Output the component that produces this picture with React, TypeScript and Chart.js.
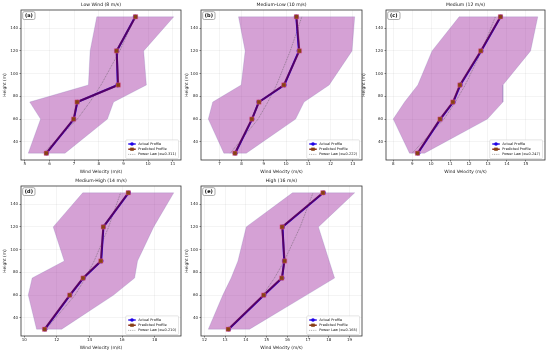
import React, { useEffect, useRef } from 'react';
import { Chart, registerables } from 'chart.js';

Chart.register(...registerables);

const heights = [30, 60, 75, 90, 120, 150];
const heightTicks = [40, 60, 80, 100, 120, 140];

// (a) Low Wind
const actualA = [5.88, 6.99, 7.13, 8.77, 8.73, 9.48];
const predictedA = [5.87, 6.98, 7.12, 8.79, 8.72, 9.49];
const lowerA = [5.14, 5.64, 5.2, 7.58, 7.65, 7.92];
const upperA = [6.63, 8.35, 8.6, 9.93, 9.82, 11.04];
const powerA = [5.75, 7.13, 7.64, 8.09, 8.85, 9.48];
const ticksA = [5, 6, 7, 8, 9, 10, 11];

// (b) Medium-Low
const actualB = [7.71, 8.47, 8.77, 9.92, 10.58, 10.46];
const predictedB = [7.7, 8.46, 8.78, 9.9, 10.6, 10.47];
const lowerB = [7.2, 6.5, 6.7, 7.98, 8.16, 7.86];
const upperB = [8.21, 10.43, 10.81, 11.94, 12.97, 13.09];
const powerB = [7.49, 8.74, 9.18, 9.57, 10.19, 10.71];
const ticksB = [7, 8, 9, 10, 11, 12, 13];

// (c) Medium
const actualC = [9.3, 10.49, 11.17, 11.54, 12.64, 13.67];
const predictedC = [9.28, 10.47, 11.15, 11.52, 12.62, 13.66];
const lowerC = [8.86, 8.0, 8.6, 9.3, 10.05, 11.48];
const upperC = [9.65, 12.97, 13.79, 13.79, 15.25, 15.63];
const powerC = [9.0, 10.68, 11.28, 11.8, 12.67, 13.39];
const ticksC = [8, 9, 10, 11, 12, 13, 14, 15];

// (d) Medium-High
const actualD = [11.27, 12.81, 13.63, 14.72, 14.86, 16.4];
const predictedD = [11.25, 12.79, 13.61, 14.7, 14.85, 16.38];
const lowerD = [10.76, 10.25, 10.49, 12.46, 11.78, 13.59];
const upperD = [12.3, 15.48, 16.77, 16.95, 17.94, 19.17];
const powerD = [11.34, 13.12, 13.75, 14.29, 15.18, 15.91];
const ticksD = [10, 12, 14, 16, 18];

// (e) High
const actualE = [13.17, 14.88, 15.75, 15.85, 15.77, 17.74];
const predictedE = [13.15, 14.86, 15.73, 15.87, 15.75, 17.72];
const lowerE = [12.19, 12.89, 13.29, 13.62, 14.02, 16.25];
const upperE = [14.18, 16.92, 18.28, 18.02, 17.5, 19.25];
const powerE = [13.22, 14.82, 15.38, 15.85, 16.62, 17.24];
const ticksE = [12, 13, 14, 15, 16, 17, 18, 19];

type PanelCfg = {
  label: string; title: string; alpha: string;
  actual: number[]; predicted: number[]; lower: number[]; upper: number[]; power: number[];
  xTicks: number[];
  L: number; T: number; R: number; B: number; left: number;
};

const panels: PanelCfg[] = [
  { label: '(a)', title: 'Low Wind (8 m/s)', alpha: '0.311', actual: actualA, predicted: predictedA, lower: lowerA, upper: upperA, power: powerA, xTicks: ticksA, L: 21, T: 10, R: 181, B: 160, left: 2 },
  { label: '(b)', title: 'Medium-Low (10 m/s)', alpha: '0.222', actual: actualB, predicted: predictedB, lower: lowerB, upper: upperB, power: powerB, xTicks: ticksB, L: 201, T: 10, R: 362, B: 160, left: 184 },
  { label: '(c)', title: 'Medium (12 m/s)', alpha: '0.247', actual: actualC, predicted: predictedC, lower: lowerC, upper: upperC, power: powerC, xTicks: ticksC, L: 386, T: 10, R: 545, B: 160, left: 361 },
  { label: '(d)', title: 'Medium-High (14 m/s)', alpha: '0.210', actual: actualD, predicted: predictedD, lower: lowerD, upper: upperD, power: powerD, xTicks: ticksD, L: 21, T: 186, R: 181, B: 336, left: 2 },
  { label: '(e)', title: 'High (16 m/s)', alpha: '0.165', actual: actualE, predicted: predictedE, lower: lowerE, upper: upperE, power: powerE, xTicks: ticksE, L: 201, T: 186, R: 362, B: 336, left: 184 },
];

const FONT = 'DejaVu Sans';
const BLUE = 'rgb(30,0,230)';
const BROWN = 'rgb(135,65,20)';

function Panel({ cfg }: { cfg: PanelCfg }) {
  const ref = useRef<HTMLCanvasElement>(null);
  const top = cfg.T - 10;
  const width = cfg.R + 5 - cfg.left;
  const height = cfg.B + 14 - top;
  const yw = cfg.L - cfg.left;

  useEffect(() => {
    const pts = (xs: number[]) => xs.map((x, i) => ({ x, y: heights[i] }));
    const band = [
      ...cfg.lower.map((x, i) => ({ x, y: heights[i] })),
      ...cfg.upper.map((x, i) => ({ x, y: heights[i] })).reverse(),
      { x: cfg.lower[0], y: heights[0] },
    ];
    const lo = Math.min(...cfg.lower);
    const hi = Math.max(...cfg.upper);
    const pad = (hi - lo) * 0.05;

    const decor = {
      id: 'decor',
      afterDatasetsDraw(chart: any) {
        const { ctx, chartArea: a } = chart;
        ctx.save();
        ctx.strokeStyle = '#333';
        ctx.lineWidth = 0.8;
        ctx.strokeRect(a.left, a.top, a.right - a.left, a.bottom - a.top);
        ctx.fillStyle = '#111';
        ctx.font = `4.6px "${FONT}"`;
        ctx.textAlign = 'center';
        ctx.textBaseline = 'middle';
        ctx.fillText(cfg.title, (a.left + a.right) / 2, a.top - 4.8);
        const bx = a.left + 1.7, by = a.top + 1.7, bw = 12.3, bh = 7.8;
        ctx.beginPath();
        if (ctx.roundRect) ctx.roundRect(bx, by, bw, bh, 1.6); else ctx.rect(bx, by, bw, bh);
        ctx.fillStyle = 'rgba(255,255,255,0.9)';
        ctx.fill();
        ctx.strokeStyle = '#888';
        ctx.lineWidth = 0.7;
        ctx.stroke();
        ctx.fillStyle = '#000';
        ctx.font = `bold 5px "${FONT}"`;
        ctx.fillText(cfg.label, bx + bw / 2, by + bh / 2 + 0.2);
        const labels = ['Actual Profile', 'Predicted Profile', `Power Law (α=${cfg.alpha})`];
        ctx.font = `3.5px "${FONT}"`;
        const tw = Math.max(...labels.map((s) => ctx.measureText(s).width));
        const rowH = 5.2, padL = 2.5, hl = 7.5, gap = 2.5, padY = 1.5;
        const lw = padL + hl + gap + tw + 2.5;
        const lh = padY * 2 + rowH * 3;
        const lx = a.right - 2.5 - lw;
        const ly = a.bottom - 1.5 - lh;
        ctx.beginPath();
        if (ctx.roundRect) ctx.roundRect(lx, ly, lw, lh, 1); else ctx.rect(lx, ly, lw, lh);
        ctx.fillStyle = 'rgba(255,255,255,0.85)';
        ctx.fill();
        ctx.strokeStyle = 'rgba(200,200,200,0.9)';
        ctx.lineWidth = 0.5;
        ctx.stroke();
        labels.forEach((s, i) => {
          const cy = ly + padY + rowH * (i + 0.5);
          const x0 = lx + padL, x1 = x0 + hl, xm = (x0 + x1) / 2;
          ctx.beginPath();
          ctx.moveTo(x0, cy);
          ctx.lineTo(x1, cy);
          if (i === 0) {
            ctx.strokeStyle = BLUE; ctx.lineWidth = 1.4; ctx.setLineDash([]); ctx.stroke();
            ctx.beginPath(); ctx.arc(xm, cy, 1.8, 0, Math.PI * 2); ctx.fillStyle = BLUE; ctx.fill();
          } else if (i === 1) {
            ctx.strokeStyle = 'rgb(130,30,10)'; ctx.lineWidth = 1.4; ctx.setLineDash([]); ctx.stroke();
            ctx.fillStyle = BROWN; ctx.fillRect(xm - 1.8, cy - 1.6, 3.6, 3.2);
          } else {
            ctx.strokeStyle = 'rgba(90,90,90,0.9)'; ctx.lineWidth = 0.6; ctx.setLineDash([0.9, 0.9]); ctx.stroke();
            ctx.setLineDash([]);
          }
          ctx.fillStyle = '#111';
          ctx.textAlign = 'left';
          ctx.textBaseline = 'middle';
          ctx.fillText(s, x1 + gap, cy + 0.1);
        });
        ctx.restore();
      },
    };

    const tickFont = { family: FONT, size: 4 };
    const titleFont = { family: FONT, size: 4.4 };
    const grid = { color: 'rgba(0,0,0,0.09)', lineWidth: 0.5, tickLength: 1.5, tickColor: '#333', tickWidth: 0.6 };

    const chart = new Chart(ref.current as HTMLCanvasElement, {
      type: 'line',
      data: {
        datasets: [
          {
            label: 'Predicted Profile', data: pts(cfg.predicted),
            borderColor: 'rgba(120,0,20,0.6)', borderWidth: 2,
            pointStyle: 'rect', pointRadius: 3.1, pointBackgroundColor: BROWN,
            pointBorderColor: 'rgba(240,90,170,0.55)', pointBorderWidth: 0.8, fill: false,
          },
          {
            label: 'Actual Profile', data: pts(cfg.actual),
            borderColor: BLUE, borderWidth: 2,
            pointStyle: 'circle', pointRadius: 2.4, pointBackgroundColor: BLUE, pointBorderWidth: 0, fill: false,
          },
          {
            label: 'Power Law', data: pts(cfg.power),
            borderColor: 'rgba(80,80,80,0.85)', borderWidth: 0.6, borderDash: [0.9, 0.9],
            pointRadius: 0, fill: false,
          },
          {
            label: 'band', data: band,
            borderColor: 'rgba(110,100,170,0.35)', borderWidth: 0.6,
            backgroundColor: 'rgba(150,20,150,0.4)', pointRadius: 0, fill: 'shape',
          },
        ],
      } as any,
      options: {
        animation: false,
        responsive: false,
        devicePixelRatio: 1,
        events: [],
        layout: { padding: { top: 10, left: 0, right: 5, bottom: 0 } },
        elements: { line: { tension: 0 } },
        plugins: { legend: { display: false }, tooltip: { enabled: false }, title: { display: false } },
        scales: {
          x: {
            type: 'linear', min: lo - pad, max: hi + pad,
            afterBuildTicks: (s: any) => { s.ticks = cfg.xTicks.map((v) => ({ value: v })); },
            afterFit: (s: any) => { s.height = 14; s.paddingLeft = 0; s.paddingRight = 0; },
            grid, border: { display: false },
            ticks: { font: tickFont, color: '#1a1a1a', padding: 0.5, maxRotation: 0, autoSkip: false },
            title: { display: true, text: 'Wind Velocity (m/s)', font: titleFont, color: '#1a1a1a', padding: 0 },
          },
          y: {
            type: 'linear', min: 24, max: 156,
            afterBuildTicks: (s: any) => { s.ticks = heightTicks.map((v) => ({ value: v })); },
            afterFit: (s: any) => { s.width = yw; s.paddingTop = 0; s.paddingBottom = 0; },
            grid, border: { display: false },
            ticks: { font: tickFont, color: '#1a1a1a', padding: 1.5, autoSkip: false },
            title: { display: true, text: 'Height (m)', font: titleFont, color: '#1a1a1a', padding: 0 },
          },
        },
      } as any,
      plugins: [decor],
    });
    return () => chart.destroy();
  }, []);

  return (
    <canvas
      ref={ref}
      width={width}
      height={height}
      style={{ position: 'absolute', left: cfg.left, top, width, height }}
    />
  );
}

export default function App() {
  return (
    <div style={{ position: 'absolute', left: 0, top: 0, width: 550, height: 355, background: '#fff', overflow: 'hidden' }}>
      {panels.map((p) => (
        <Panel key={p.label} cfg={p} />
      ))}
    </div>
  );
}
